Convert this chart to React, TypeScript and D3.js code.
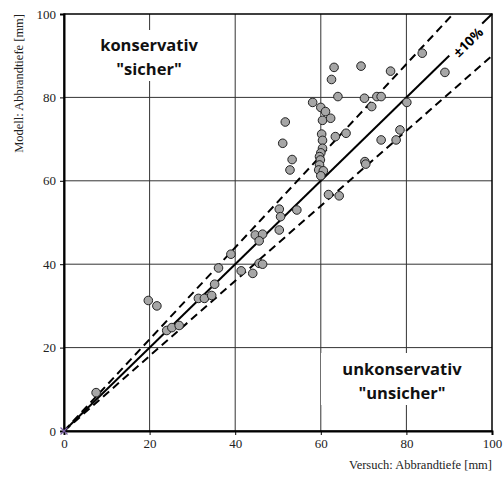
import React, { useRef, useEffect } from "react";
import * as d3 from "d3";

// measured points: [Versuch, Modell] in mm
const versuch = [
  7.5, 19.7, 21.7, 24.0, 25.2, 26.9, 31.4, 32.8, 34.5, 35.2, 36.1, 39.0, 41.4, 44.1, 44.7, 46.4, 45.6, 45.6, 46.4,
  50.3, 50.6, 50.3, 54.4, 61.8, 64.3, 51.7, 51.1, 53.3, 52.8,
  63.1, 62.5, 64.0, 58.1, 60.0, 61.1, 60.4, 62.3, 60.2, 60.4, 63.4, 65.9, 60.4, 60.0, 59.7, 59.9, 59.7, 59.5, 60.6, 60.0,
  83.7, 69.4, 76.3, 89.0, 70.2, 73.1, 74.1, 71.9, 80.1, 78.5, 74.1, 77.6, 70.3, 70.5,
];
const modell = [
  9.2, 31.3, 30.0, 24.1, 24.8, 25.3, 31.8, 31.8, 32.5, 35.2, 39.1, 42.4, 38.4, 37.8, 47.0, 47.2, 45.6, 40.2, 40.0,
  53.2, 51.4, 48.2, 53.0, 56.7, 56.4, 74.1, 69.0, 65.1, 62.6,
  87.2, 84.3, 80.2, 78.8, 77.6, 76.6, 74.5, 75.0, 71.2, 69.7, 70.6, 71.4, 67.8, 66.7, 65.8, 65.0, 63.8, 62.6, 62.4, 61.2,
  90.6, 87.5, 86.3, 86.0, 79.8, 80.2, 80.2, 77.8, 78.8, 72.2, 69.8, 69.8, 64.6, 64.0,
];
const ticks = [0, 20, 40, 60, 80, 100];
const bandFactors = [1.1, 0.9];

const W = 504;
const H = 477;
const m = { left: 64, right: 12, top: 14, bottom: 46 };

export default function App() {
  const ref = useRef<SVGSVGElement>(null);

  useEffect(() => {
    const svg = d3.select(ref.current);
    svg.selectAll("*").remove();

    const x = d3.scaleLinear().domain([0, 100]).range([m.left, W - m.right]);
    const y = d3.scaleLinear().domain([0, 100]).range([H - m.bottom, m.top]);
    const serif = "'Liberation Serif', 'Times New Roman', serif";
    const sans = "'Open Sans', 'Liberation Sans', sans-serif";

    // grid
    const grid = svg.append("g").attr("stroke", "#333").attr("stroke-width", 1);
    ticks.slice(1, -1).forEach((t) => {
      grid.append("line").attr("x1", x(t)).attr("x2", x(t)).attr("y1", y(0)).attr("y2", y(100));
      grid.append("line").attr("x1", x(0)).attr("x2", x(100)).attr("y1", y(t)).attr("y2", y(t));
    });

    // white label boxes
    svg.append("rect").attr("x", 92).attr("y", 30).attr("width", 116).attr("height", 51).attr("fill", "white");
    svg.append("rect").attr("x", 321).attr("y", 353).attr("width", 163).attr("height", 52).attr("fill", "white");

    // lines
    const line = d3
      .line<[number, number]>()
      .x((d) => x(d[0]))
      .y((d) => y(d[1]));
    svg
      .append("path")
      .attr("d", line([[0, 0], [100, 100]]))
      .attr("stroke", "black")
      .attr("stroke-width", 2)
      .attr("fill", "none");
    bandFactors.forEach((f) => {
      const xe = Math.min(100, 100 / f);
      svg
        .append("path")
        .attr("d", line([[0, 0], [xe, xe * f]]))
        .attr("stroke", "black")
        .attr("stroke-width", 2)
        .attr("stroke-dasharray", "8,5")
        .attr("fill", "none");
    });

    // frame / axes
    svg
      .append("rect")
      .attr("x", x(0))
      .attr("y", y(100))
      .attr("width", x(100) - x(0))
      .attr("height", y(0) - y(100))
      .attr("fill", "none")
      .attr("stroke", "black")
      .attr("stroke-width", 1.5);

    const xAxis = svg
      .append("g")
      .attr("transform", `translate(0,${y(0)})`)
      .call(d3.axisBottom(x).tickValues(ticks).tickSize(4).tickPadding(4));
    const yAxis = svg
      .append("g")
      .attr("transform", `translate(${x(0)},0)`)
      .call(d3.axisLeft(y).tickValues(ticks).tickSize(4).tickPadding(4));
    [xAxis, yAxis].forEach((g) => {
      g.select(".domain").attr("stroke-width", 2);
      g.selectAll("text").attr("font-family", serif).attr("font-size", 13).attr("fill", "#222");
    });

    // points
    svg
      .append("g")
      .selectAll("circle")
      .data(versuch.map((v, i) => [v, modell[i]]))
      .join("circle")
      .attr("cx", (d) => x(d[0]))
      .attr("cy", (d) => y(d[1]))
      .attr("r", 4.3)
      .attr("fill", "#a6a6a6")
      .attr("stroke", "#222")
      .attr("stroke-width", 1);

    // origin marker
    const ox = x(0);
    const oy = y(0);
    svg
      .append("path")
      .attr("d", `M${ox - 3.5},${oy - 3.5}L${ox + 3.5},${oy + 3.5}M${ox - 3.5},${oy + 3.5}L${ox + 3.5},${oy - 3.5}`)
      .attr("stroke", "#7a5fa6")
      .attr("stroke-width", 1.3);

    // ±10% label along diagonal
    const lbl = svg.append("g").attr("transform", `translate(468,42) rotate(-44.3)`);
    lbl.append("rect").attr("x", -23).attr("y", -8).attr("width", 46).attr("height", 14).attr("fill", "white");
    lbl
      .append("text")
      .attr("text-anchor", "middle")
      .attr("y", 5)
      .attr("font-family", sans)
      .attr("font-weight", "bold")
      .attr("font-size", 13.5)
      .text("±10%");

    // region labels
    const region = (cx: number, y1: number, lines: string[]) => {
      lines.forEach((s, i) => {
        svg
          .append("text")
          .attr("x", cx)
          .attr("y", y1 + i * 24)
          .attr("text-anchor", "middle")
          .attr("font-family", sans)
          .attr("font-weight", "bold")
          .attr("font-size", 16.5)
          .attr("fill", "#111")
          .text(s);
      });
    };
    region(149, 51, ["konservativ", '"sicher"']);
    region(402, 375, ["unkonservativ", '"unsicher"']);

    // axis titles
    svg
      .append("text")
      .attr("x", x(100))
      .attr("y", 469)
      .attr("text-anchor", "end")
      .attr("font-family", serif)
      .attr("font-size", 12.5)
      .attr("fill", "#222")
      .text("Versuch: Abbrandtiefe [mm]");
    svg
      .append("text")
      .attr("transform", `translate(23,${m.top}) rotate(-90)`)
      .attr("text-anchor", "end")
      .attr("font-family", serif)
      .attr("font-size", 12.5)
      .attr("fill", "#222")
      .text("Modell: Abbrandtiefe [mm]");
  }, []);

  return (
    <svg
      ref={ref}
      width={W}
      height={H}
      style={{ position: "absolute", left: 0, top: 0, background: "white" }}
    />
  );
}
